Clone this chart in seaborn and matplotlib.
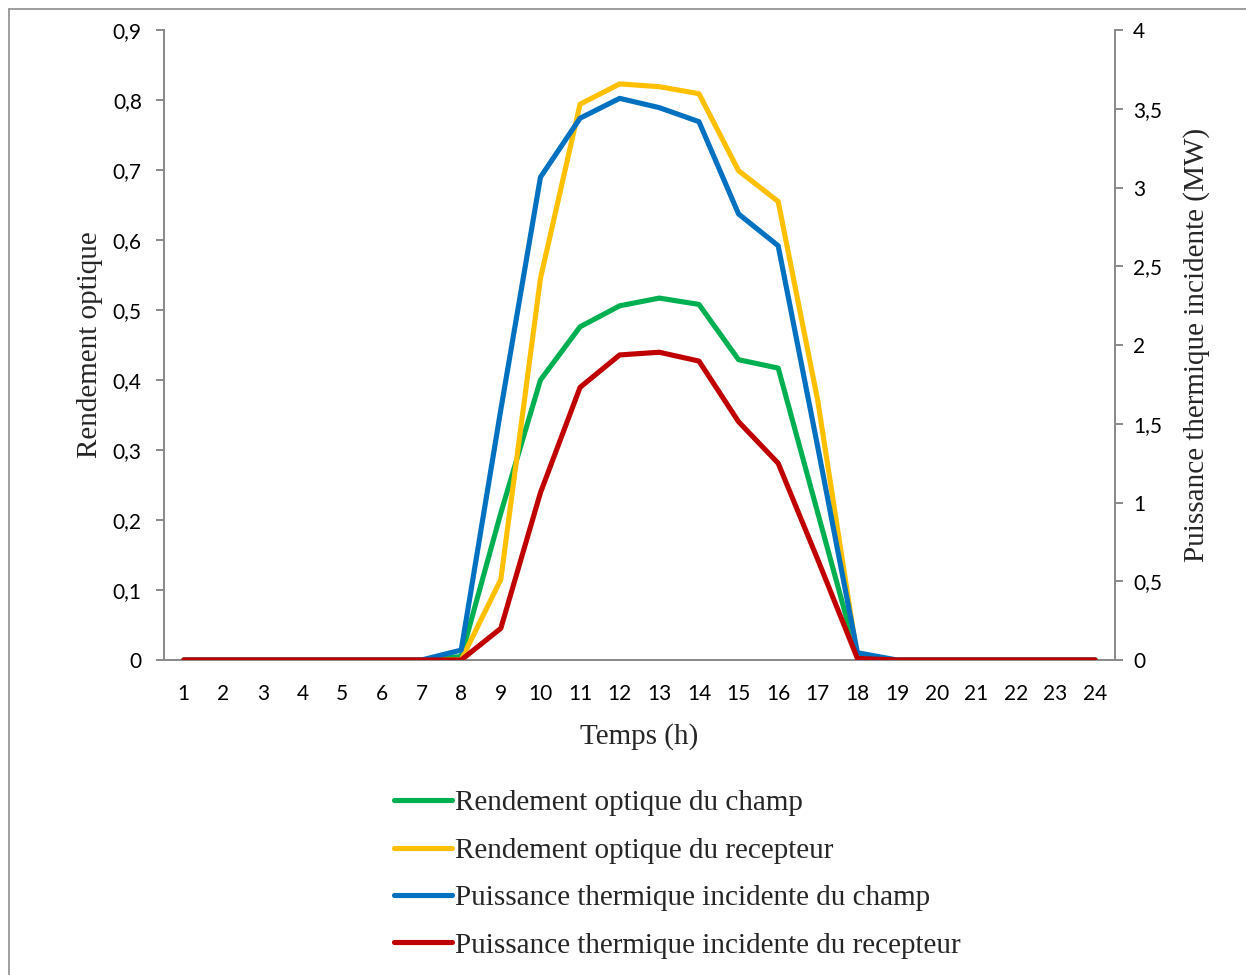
import matplotlib
matplotlib.use("Agg")
import matplotlib.pyplot as plt
from matplotlib.lines import Line2D
from matplotlib.ticker import FuncFormatter, FixedLocator
import seaborn as sns
import pandas as pd

# Hourly data (hours 1..24)
hours = list(range(1, 25))
rend_champ = [0, 0, 0, 0, 0, 0, 0, 0.005, 0.21, 0.40, 0.476, 0.506, 0.517, 0.508,
              0.429, 0.417, 0.21, 0.003, 0, 0, 0, 0, 0, 0]
rend_recepteur = [0, 0, 0, 0, 0, 0, 0, 0, 0.115, 0.545, 0.794, 0.823, 0.819, 0.809,
                  0.699, 0.655, 0.37, 0.003, 0, 0, 0, 0, 0, 0]
puis_champ = [0, 0, 0, 0, 0, 0, 0, 0.063, 1.59, 3.065, 3.44, 3.566, 3.507, 3.418,
              2.832, 2.63, 1.35, 0.046, 0, 0, 0, 0, 0, 0]
puis_recepteur = [0, 0, 0, 0, 0, 0, 0, 0, 0.201, 1.062, 1.731, 1.937, 1.954, 1.898,
                  1.513, 1.249, 0.637, 0.01, 0, 0, 0, 0, 0, 0]

labels = ["Rendement optique du champ", "Rendement optique du recepteur",
          "Puissance thermique incidente du champ",
          "Puissance thermique incidente du recepteur"]
colors = ["#00B050", "#FFC000", "#0070C0", "#C00000"]

df = pd.DataFrame({"h": hours, "rc": rend_champ, "rr": rend_recepteur,
                   "pc": puis_champ, "pr": puis_recepteur})

sns.set_style("white")
plt.rcParams["font.family"] = ["Lato", "DejaVu Sans"]

W, H = 1246, 975
fig = plt.figure(figsize=(W / 100, H / 100), dpi=100)
ax = fig.add_axes([164 / W, 1 - 660 / H, (1115 - 164) / W, (660 - 30) / H])
ax2 = ax.twinx()

lw = 3.7
sns.lineplot(data=df, x="h", y="rc", ax=ax, color=colors[0], linewidth=lw)
sns.lineplot(data=df, x="h", y="rr", ax=ax, color=colors[1], linewidth=lw)
sns.lineplot(data=df, x="h", y="pc", ax=ax2, color=colors[2], linewidth=lw)
sns.lineplot(data=df, x="h", y="pr", ax=ax2, color=colors[3], linewidth=lw)

ax.set_xlim(0.5, 24.5)
ax.set_ylim(0, 0.9)
ax2.set_ylim(0, 4)

spine_col = "#898989"
for a in (ax, ax2):
    for s in a.spines.values():
        s.set_visible(False)
    a.set_xlabel("")
    a.set_ylabel("")
ax.spines["left"].set_visible(True)
ax.spines["bottom"].set_visible(True)
ax2.spines["right"].set_visible(True)
for s in (ax.spines["left"], ax.spines["bottom"], ax2.spines["right"]):
    s.set_color(spine_col)
    s.set_linewidth(1.4)
ax.spines["bottom"].set_zorder(0)

comma = FuncFormatter(lambda v, p: ("%g" % round(v, 2)).replace(".", ","))
ax.yaxis.set_major_locator(FixedLocator([i / 10 for i in range(10)]))
ax.yaxis.set_major_formatter(comma)
ax2.yaxis.set_major_locator(FixedLocator([i / 2 for i in range(9)]))
ax2.yaxis.set_major_formatter(comma)

tick_size = 15
ax.set_xticks(hours)
ax.set_xticklabels([str(h) for h in hours])
ax.set_xticks([h + 0.5 for h in range(0, 25)], minor=True)
ax.tick_params(axis="x", which="major", length=0, pad=17, labelsize=tick_size,
               colors="black")
ax.tick_params(axis="x", which="minor", length=6, width=1.4, color=spine_col,
               direction="out")
ax.tick_params(axis="y", which="major", length=6, width=1.4, color=spine_col,
               direction="out", pad=10, labelsize=tick_size, labelcolor="black")
ax2.tick_params(axis="y", which="major", length=6, width=1.4, color=spine_col,
                direction="out", pad=7, labelsize=tick_size, labelcolor="black")

serif = ["Liberation Serif", "DejaVu Serif"]
ax.set_xlabel("Temps (h)", family=serif, fontsize=21, labelpad=14)
ax.set_ylabel("Rendement optique", family=serif, fontsize=21, labelpad=7)
ax2.set_ylabel("Puissance thermique incidente (MW)", family=serif, fontsize=21,
               labelpad=15)

handles = [Line2D([0], [0], color=c, linewidth=lw, solid_capstyle="round")
           for c in colors]
fig.legend(handles, labels, loc="upper left", bbox_to_anchor=(394 / W, 1 - 790 / H),
           frameon=False, prop={"family": serif, "size": 21},
           handlelength=2.0, handletextpad=0.1, labelspacing=0.72,
           borderaxespad=0, borderpad=0)

# Frame lines along the top and left edges of the figure
fig.add_artist(Line2D([9 / W, 1], [1 - 9 / H, 1 - 9 / H], transform=fig.transFigure,
                      color="#8c8c8c", linewidth=1.2))
fig.add_artist(Line2D([9 / W, 9 / W], [0, 1 - 9 / H], transform=fig.transFigure,
                      color="#8c8c8c", linewidth=1.2))

fig.savefig("out.png", dpi=100)
